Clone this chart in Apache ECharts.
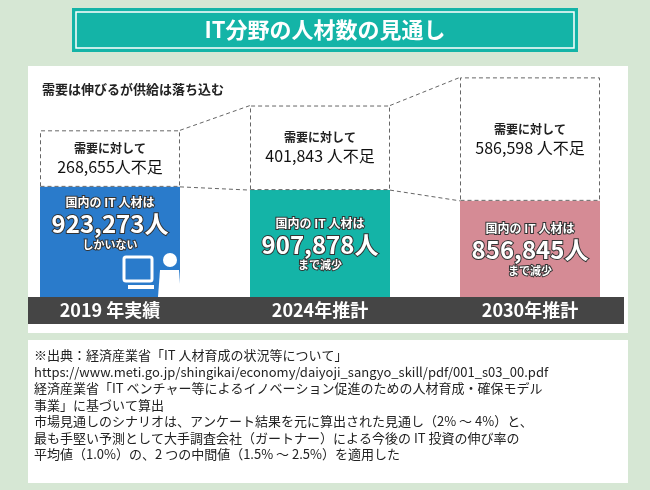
<!DOCTYPE html>
<html lang="ja">
<head>
<meta charset="UTF-8">
<script src="https://cdn.jsdelivr.net/npm/echarts@6/dist/echarts.min.js"></script>
<style>
  html, body { margin: 0; padding: 0; }
  #main { width: 650px; height: 490px; }
</style>
</head>
<body>
<div id="main"></div>
<script>
  // data (thousand people for the scale, exact numbers for labels)
  var years = ['2019 年実績', '2024年推計', '2030年推計'];
  var supply = [923.273, 907.878, 856.845];
  var shortage = [268.655, 401.843, 586.598];
  var supplyText = ['923,273人', '907,878人', '856,845人'];
  var shortageText = ['268,655人不足', '401,843 人不足', '586,598 人不足'];
  var supplyTail = ['しかいない', 'まで減少', 'まで減少'];
  var colors = ['#2a7bcb', '#14b4a7', '#d58b95'];

  var font = '"Noto Sans CJK JP", "Noto Sans", sans-serif';
  var chart = echarts.init(document.getElementById('main'));

  var note = [
    '※出典：経済産業省「IT 人材育成の状況等について」',
    'https://www.meti.go.jp/shingikai/economy/daiyoji_sangyo_skill/pdf/001_s03_00.pdf',
    '経済産業省「IT ベンチャー等によるイノベーション促進のための人材育成・確保モデル',
    '事業」に基づいて算出',
    '市場見通しのシナリオは、アンケート結果を元に算出された見通し（2% ～ 4%）と、',
    '最も手堅い予測として大手調査会社（ガートナー）による今後の IT 投資の伸び率の',
    '平均値（1.0%）の、2 つの中間値（1.5% ～ 2.5%）を適用した'
  ].join('\n');

  var outline = { color: '#fff', textBorderColor: '#333', textBorderWidth: 2, fontWeight: 'bold' };

  chart.setOption({
    backgroundColor: '#d6e7d4',
    textStyle: { fontFamily: font },
    animation: false,
    grid: { left: 5, right: 15, top: 76, bottom: 193 },
    xAxis: {
      type: 'category', data: years,
      axisLine: { show: false }, axisTick: { show: false },
      axisLabel: { color: '#fff', fontSize: 18, fontWeight: 'bold', margin: 4 },
      z: 10
    },
    yAxis: { type: 'value', min: 400, max: 1450, show: false },
    graphic: [
      { type: 'rect', shape: { x: 28, y: 66, width: 600, height: 267 }, style: { fill: '#fff' }, z: -10 },
      { type: 'rect', shape: { x: 28, y: 297, width: 596, height: 27 }, style: { fill: '#454545' }, z: 1 },
      { type: 'rect', shape: { x: 28, y: 340, width: 600, height: 143 }, style: { fill: '#fff' }, z: -10 },
      { type: 'rect', shape: { x: 72, y: 8, width: 506, height: 44 }, style: { fill: '#14b4a7' } },
      { type: 'rect', shape: { x: 76, y: 12, width: 498, height: 36 }, style: { fill: 'none', stroke: '#fff', lineWidth: 1.5 } },
      { type: 'text', x: 325, y: 30, style: { text: 'IT分野の人材数の見通し', fill: '#fff', font: 'bold 22px ' + font, textAlign: 'center', textVerticalAlign: 'middle' } },
      { type: 'text', x: 42, y: 83, style: { text: '需要は伸びるが供給は落ち込む', fill: '#222', font: 'bold 13px ' + font } },
      { type: 'text', x: 34, y: 347, style: { text: note, fill: '#222', font: '13px ' + font, lineHeight: 16.5 } }
    ],
    series: [
      {
        type: 'bar', stack: 'a', barWidth: 140,
        data: supply.map(function (v, i) {
          var d = { value: v, itemStyle: { color: colors[i] } };
          if (i === 0) d.label = { position: 'insideTop', distance: 8 };
          return d;
        }),
        label: {
          show: true, position: 'inside',
          formatter: function (p) {
            return '{a|国内の IT 人材は}\n{b|' + supplyText[p.dataIndex] + '}\n{c|' + supplyTail[p.dataIndex] + '}';
          },
          rich: {
            a: Object.assign({ fontSize: 12, lineHeight: 16 }, outline),
            b: Object.assign({ fontSize: 24, lineHeight: 27 }, outline),
            c: Object.assign({ fontSize: 11, lineHeight: 14 }, outline)
          }
        }
      },
      {
        type: 'bar', stack: 'a', barWidth: 140,
        data: shortage,
        itemStyle: { color: '#fff', borderColor: '#666', borderWidth: 1, borderType: [4, 3] },
        label: {
          show: true, position: 'inside',
          formatter: function (p) {
            return '{a|需要に対して}\n{b|' + shortageText[p.dataIndex] + '}';
          },
          rich: {
            a: { fontSize: 12, fontWeight: 'bold', color: '#222', lineHeight: 17 },
            b: { fontSize: 16, color: '#111', lineHeight: 20 }
          }
        }
      }
    ]
  });

  // dashed connectors and the computer icon, placed through the chart scales
  var half = 70, extra = [];
  for (var i = 0; i < 2; i++) {
    var top1 = chart.convertToPixel({ xAxisIndex: 0, yAxisIndex: 0 }, [i, supply[i] + shortage[i]]);
    var top2 = chart.convertToPixel({ xAxisIndex: 0, yAxisIndex: 0 }, [i + 1, supply[i + 1] + shortage[i + 1]]);
    var bot1 = chart.convertToPixel({ xAxisIndex: 0, yAxisIndex: 0 }, [i, supply[i]]);
    var bot2 = chart.convertToPixel({ xAxisIndex: 0, yAxisIndex: 0 }, [i + 1, supply[i + 1]]);
    [[top1, top2], [bot1, bot2]].forEach(function (pp) {
      extra.push({
        type: 'line',
        shape: { x1: pp[0][0] + half, y1: pp[0][1], x2: pp[1][0] - half, y2: pp[1][1] },
        style: { stroke: '#666', lineDash: [4, 3], lineWidth: 1 }
      });
    });
  }
  var c0 = chart.convertToPixel({ xAxisIndex: 0, yAxisIndex: 0 }, [0, 400]);
  var ix = c0[0] + 14, iy = c0[1] - 40;
  extra.push(
    { type: 'rect', shape: { x: ix, y: iy, width: 28, height: 24, r: 2 }, style: { fill: 'none', stroke: '#fff', lineWidth: 3 }, z: 20 },
    { type: 'rect', shape: { x: ix + 4, y: iy + 28, width: 26, height: 4 }, style: { fill: '#fff' }, z: 20 },
    { type: 'circle', shape: { cx: ix + 46, cy: iy + 3, r: 7 }, style: { fill: '#fff' }, z: 20 },
    { type: 'polygon', shape: { points: [[ix + 34, iy + 40], [ix + 36, iy + 13], [ix + 55, iy + 13], [ix + 57, iy + 40]] }, style: { fill: '#fff' }, z: 20 }
  );
  chart.setOption({ graphic: chart.getOption().graphic[0].elements.concat(extra) });
</script>
</body>
</html>
